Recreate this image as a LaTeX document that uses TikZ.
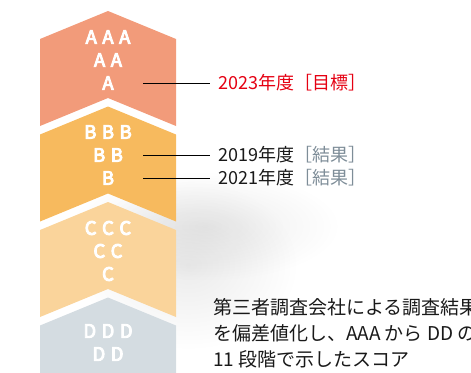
\documentclass[tikz,border=0pt]{standalone}
\usepackage{fontspec}
\setmainfont{Noto Sans CJK JP}
\newfontfamily\gradefont{Noto Sans CJK JP}[FakeBold=5]
\usetikzlibrary{positioning,fadings}
\definecolor{gradeA}{HTML}{F29B7A}
\definecolor{gradeB}{HTML}{F7BA5E}
\definecolor{gradeC}{HTML}{FAD49B}
\definecolor{gradeD}{HTML}{D4DCE1}
\definecolor{target}{HTML}{E50012}
\definecolor{result}{HTML}{7E8D98}
\newcommand{\lsp}{\hspace{5.5pt}}
\tikzfading[name=fuzzy, inner color=transparent!0, outer color=transparent!100]

\begin{document}
\begin{tikzpicture}[x=1pt, y=-1pt,
    grade/.style={text=white, font=\gradefont\fontsize{18.5}{19}\selectfont, inner sep=0pt},
    year/.style={anchor=west, inner xsep=8pt, inner ysep=0pt, font=\fontsize{18}{20}\selectfont, text=black!90},
    lead/.style={line width=0.9pt, black},
    haze/.style={fill=black, opacity=0.08, path fading=fuzzy}]
  \useasboundingbox (0,0) rectangle (471,372);
  % soft shadow behind the column
  \fill[haze] (205,226) ellipse (135 and 55);
  \fill[haze] (188,265) ellipse (110 and 85);
  % chevron bands
  \foreach \c [count=\i from 0] in {gradeA,gradeB,gradeC,gradeD} {
    \pgfmathsetmacro{\t}{11+95.5*\i}
    \fill[\c] (40,\t+28) -- (108,\t) -- (176,\t+28) -- (176,\t+115) -- (108,\t+87) -- (40,\t+115) -- cycle;
  }
  % grades
  \node[grade] (a3) at (108,37) {A\lsp A\lsp A};
  \node[grade] (a2) at (108,60) {A\lsp A};
  \node[grade] (a1) at (108,83) {A};
  \node[grade] (b3) at (108,132) {B\lsp B\lsp B};
  \node[grade] (b2) at (108,155) {B\lsp B};
  \node[grade] (b1) at (108,178) {B};
  \node[grade] (c3) at (108,228) {C\lsp C\lsp C};
  \node[grade] (c2) at (108,251) {C\lsp C};
  \node[grade] (c1) at (108,274) {C};
  \node[grade] (d3) at (108,331) {D\lsp D\lsp D};
  \node[grade] (d2) at (108,354) {D\lsp D};
  % years
  \coordinate (pa) at (143,83);
  \coordinate (pb) at (143,155);
  \coordinate (pc) at (143,178);
  \node[year, text=target] (y23) at (210,83) {2023年度［目標］};
  \node[year] (y19) at (210,155) {2019年度\textcolor{result}{［結果］}};
  \node[year] (y21) at (210,178) {2021年度\textcolor{result}{［結果］}};
  \draw[lead] (pa) -- (y23.west);
  \draw[lead] (pb) -- (y19.west);
  \draw[lead] (pc) -- (y21.west);
  % note
  \node[anchor=north west, inner sep=0pt, align=left, font=\fontsize{19}{26}\selectfont, text=black!90] (note) at (213,298) {第三者調査会社による調査結果\\を偏差値化し、AAA から DD の\\11 段階で示したスコア};
\end{tikzpicture}
\end{document}
